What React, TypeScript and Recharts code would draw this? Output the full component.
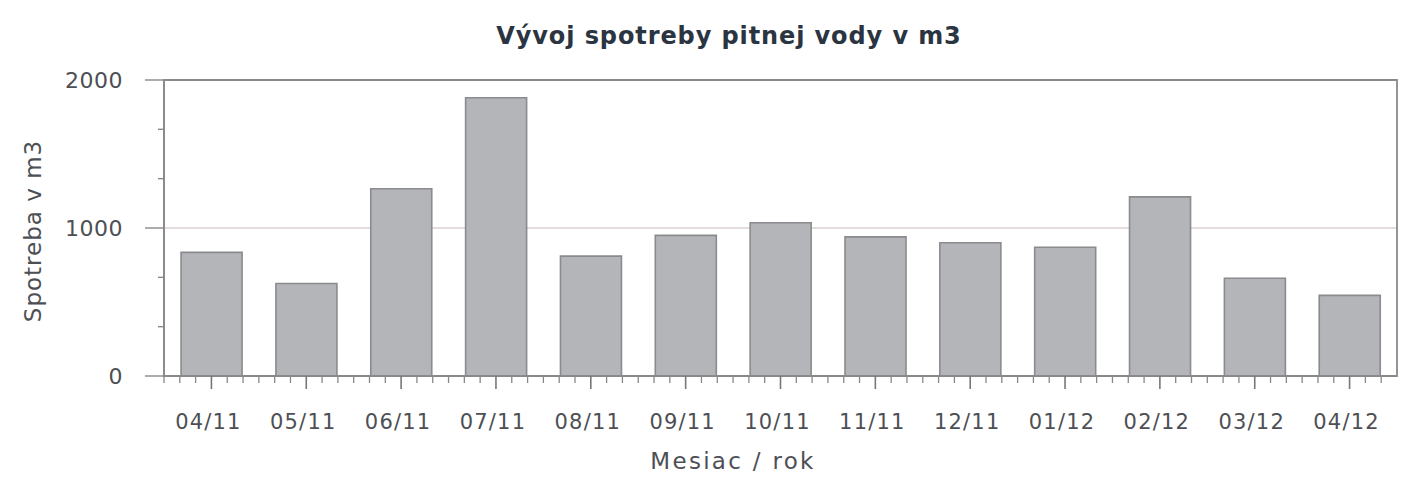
import React from "react";
import {
  BarChart,
  Bar,
  XAxis,
  YAxis,
  CartesianGrid,
  ReferenceArea,
} from "recharts";

const months = [
  "04/11", "05/11", "06/11", "07/11", "08/11", "09/11", "10/11",
  "11/11", "12/11", "01/12", "02/12", "03/12", "04/12",
];
const consumption = [835, 625, 1265, 1880, 810, 950, 1035, 940, 900, 870, 1210, 660, 545];
const yTicks = [0, 333.33, 666.67, 1000, 1333.33, 1666.67, 2000];
const yLabelTicks = [0, 1000, 2000];

const data = months.map((m, i) => ({ month: m, value: consumption[i] }));

const W = 1402;
const H = 480;
const LEFT = 164;
const RIGHT = 5;
const BAND = (W - LEFT - RIGHT) / months.length;
const FONT = "'DejaVu Sans', Verdana, sans-serif";
const TEXT = "#4d4f54";

function XTick(props: any) {
  const { x, y, payload } = props;
  const step = BAND / 6;
  const minors = [-3, -2, -1, 1, 2];
  return (
    <g>
      <line x1={x} y1={y} x2={x} y2={y + 13} stroke="#777" strokeWidth={1.6} />
      {minors.map((k) => (
        <line
          key={k}
          x1={x + k * step}
          y1={y}
          x2={x + k * step}
          y2={y + 7}
          stroke="#888"
          strokeWidth={1.3}
        />
      ))}
      <text
        x={x - 3}
        y={y + 53}
        textAnchor="middle"
        fontSize={21}
        letterSpacing={1.2}
        fontFamily={FONT}
        fill={TEXT}
      >
        {payload.value}
      </text>
    </g>
  );
}

function YTick(props: any) {
  const { x, y, payload } = props;
  const major = yLabelTicks.some((t) => Math.abs(t - payload.value) < 1);
  return (
    <g>
      <line
        x1={major ? x - 19 : x - 6}
        y1={y}
        x2={x}
        y2={y}
        stroke="#888"
        strokeWidth={1.4}
      />
      {major && (
        <text
          x={x - 41}
          y={y + 8}
          textAnchor="end"
          fontSize={22}
          letterSpacing={0.5}
          fontFamily={FONT}
          fill={TEXT}
        >
          {Math.round(payload.value)}
        </text>
      )}
    </g>
  );
}

export default function App() {
  return (
    <div
      style={{
        position: "absolute",
        left: 0,
        top: 0,
        width: W,
        height: H,
        background: "#fff",
      }}
    >
      <div
        style={{
          position: "absolute",
          left: 0,
          width: 1458,
          top: 21,
          textAlign: "center",
          fontFamily: FONT,
          fontWeight: "bold",
          fontSize: 24,
          letterSpacing: 0.9,
          lineHeight: "30px",
          color: "#2b3441",
        }}
      >
        Vývoj spotreby pitnej vody v m3
      </div>
      <div
        style={{
          position: "absolute",
          left: 0,
          width: 1466,
          top: 446,
          textAlign: "center",
          fontFamily: FONT,
          fontSize: 23,
          letterSpacing: 2.3,
          lineHeight: "30px",
          color: TEXT,
        }}
      >
        Mesiac / rok
      </div>
      <div
        style={{
          position: "absolute",
          left: 33,
          top: 231,
          transform: "translate(-50%, -50%) rotate(-90deg)",
          whiteSpace: "nowrap",
          fontFamily: FONT,
          fontSize: 23,
          letterSpacing: 1,
          lineHeight: "30px",
          color: TEXT,
        }}
      >
        Spotreba v m3
      </div>
      <BarChart
        width={W}
        height={H}
        data={data}
        margin={{ top: 80, right: RIGHT, left: 0, bottom: 0 }}
        barCategoryGap="18%"
      >
        <CartesianGrid
          vertical={false}
          horizontalValues={[1000]}
          stroke="#d8d0d0"
          strokeWidth={1.5}
        />
        <ReferenceArea
          y1={0}
          y2={2000}
          fill="none"
          stroke="#8a8a8a"
          strokeWidth={1.8}
        />
        <XAxis
          dataKey="month"
          height={104}
          tickSize={0}
          tickMargin={0}
          tick={<XTick />}
          axisLine={{ stroke: "#888", strokeWidth: 1.5 }}
          interval={0}
        />
        <YAxis
          width={LEFT}
          domain={[0, 2000]}
          ticks={yTicks}
          tickSize={0}
          tickMargin={0}
          tick={<YTick />}
          axisLine={{ stroke: "#888", strokeWidth: 1.5 }}
          interval={0}
        />
        <Bar
          dataKey="value"
          fill="#b3b5b9"
          stroke="#8a8b8e"
          strokeWidth={1.6}
          isAnimationActive={false}
        />
      </BarChart>
    </div>
  );
}
